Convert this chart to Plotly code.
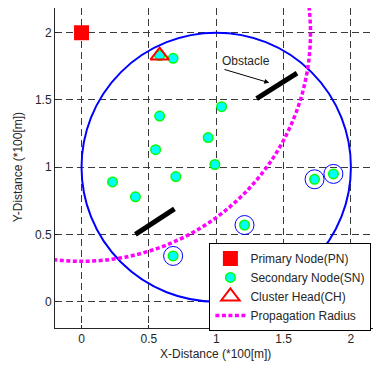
import plotly.graph_objects as go

# ---- data ----
pn_x = [0.0]
pn_y = [2.0]

sn_x = [0.58, 0.68, 0.58, 0.55, 1.04, 0.94, 0.99, 0.23, 0.40, 0.70, 0.68, 1.21, 1.34, 1.73, 1.87]
sn_y = [1.83, 1.81, 1.38, 1.13, 1.45, 1.22, 1.02, 0.89, 0.78, 0.93, 0.34, 0.57, 0.36, 0.91, 0.95]

ch_x = [0.58]
ch_y = [1.83]

ring_x = [0.68, 1.21, 1.34, 1.73, 1.87]
ring_y = [0.34, 0.57, 0.36, 0.91, 0.95]

obst_x = [0.40, 0.69, None, 1.30, 1.60]
obst_y = [0.50, 0.69, None, 1.51, 1.70]

cover_center = (1.0, 1.0)
cover_radius = 1.0
prop_center = (0.0, 2.0)
prop_radius = 1.7

tick_vals = [0, 0.5, 1, 1.5, 2]
tick_text = ["0", "0.5", "1", "1.5", "2"]

FONT = "Liberation Sans, Arial, Helvetica, sans-serif"
TXT = "#262626"
FS = 12

fig = go.Figure()

# obstacles
fig.add_trace(go.Scatter(x=obst_x, y=obst_y, mode="lines",
                         line=dict(color="black", width=5), showlegend=False,
                         hoverinfo="skip"))

# rings
fig.add_trace(go.Scatter(x=ring_x, y=ring_y, mode="markers", showlegend=False,
                         marker=dict(symbol="circle-open", size=19, color="#0000FF",
                                     line=dict(color="#0000FF", width=1))))

fig.add_trace(go.Scatter(x=pn_x, y=pn_y, mode="markers", name="Primary Node(PN)",
                         marker=dict(symbol="square", size=15, color="#FF0000",
                                     line=dict(width=0))))
fig.add_trace(go.Scatter(x=sn_x, y=sn_y, mode="markers", name="Secondary Node(SN)",
                         marker=dict(symbol="circle", size=9.5, color="#00FFFF",
                                     line=dict(color="#00FF00", width=1.5))))
fig.add_trace(go.Scatter(x=ch_x, y=ch_y, mode="markers", name="Cluster Head(CH)",
                         marker=dict(symbol="triangle-up-open", size=16, color="#FF0000",
                                     line=dict(color="#FF0000", width=2))))
fig.add_trace(go.Scatter(x=[None], y=[None], mode="lines", name="Propagation Radius",
                         line=dict(color="#FF00FF", width=3.5, dash="4px,2.5px")))

# circles
cx, cy = cover_center
fig.add_shape(type="circle", xref="x", yref="y",
              x0=cx - cover_radius, x1=cx + cover_radius,
              y0=cy - cover_radius, y1=cy + cover_radius,
              line=dict(color="#0000FF", width=2), layer="above")
px_, py_ = prop_center
fig.add_shape(type="circle", xref="x", yref="y",
              x0=px_ - prop_radius, x1=px_ + prop_radius,
              y0=py_ - prop_radius, y1=py_ + prop_radius,
              line=dict(color="#FF00FF", width=3.5, dash="4px,2.5px"), layer="above")

# obstacle annotation
fig.add_annotation(x=1.394, y=1.628, ax=1.05, ay=1.73, xref="x", yref="y",
                   axref="x", ayref="y", text="", showarrow=True,
                   arrowhead=2, arrowsize=1, arrowwidth=1, arrowcolor="black")
fig.add_annotation(x=1.22, y=1.79, xref="x", yref="y", text="Obstacle",
                   showarrow=False, font=dict(family=FONT, size=FS, color=TXT))

# axis titles
fig.add_annotation(x=0.506, y=-0.081, xref="paper", yref="paper",
                   text="X-Distance (*100[m])", showarrow=False,
                   xanchor="center", yanchor="middle",
                   font=dict(family=FONT, size=FS, color=TXT))
fig.add_annotation(x=-0.116, y=0.503, xref="paper", yref="paper",
                   text="Y-Distance (*100[m])", showarrow=False, textangle=-90,
                   xanchor="center", yanchor="middle",
                   font=dict(family=FONT, size=FS, color=TXT))

axis_common = dict(
    showgrid=True, gridcolor="#3a3a3a", gridwidth=1, griddash="7px,4px",
    zeroline=False, showline=True, linecolor=TXT, linewidth=1, mirror=False,
    ticks="inside", ticklen=3, tickcolor=TXT,
    tickvals=tick_vals, ticktext=tick_text,
    tickfont=dict(family=FONT, size=FS, color=TXT),
)

fig.update_layout(
    width=373, height=366,
    margin=dict(l=55, r=0, t=8, b=38),
    plot_bgcolor="white", paper_bgcolor="white",
    xaxis=dict(range=[-0.197, 2.164], **axis_common),
    yaxis=dict(range=[-0.196, 2.184], **axis_common),
    legend=dict(x=0.995, y=0.266, xanchor="right", yanchor="top",
                bgcolor="white", bordercolor="black", borderwidth=1,
                font=dict(family=FONT, size=FS, color=TXT),
                tracegroupgap=0, itemwidth=30),
    showlegend=True,
)

fig.write_html("out.html")
